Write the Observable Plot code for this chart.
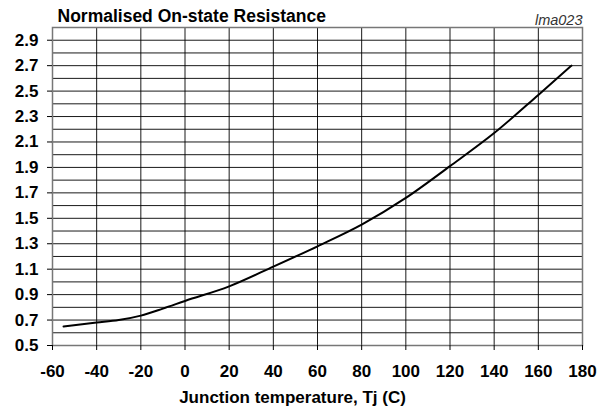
<!DOCTYPE html>
<html>
<head>
<meta charset="utf-8">
<script src="https://cdn.jsdelivr.net/npm/d3@7"></script>
<script src="https://cdn.jsdelivr.net/npm/@observablehq/plot@0.6"></script>
<style>
  html, body { margin: 0; padding: 0; background: #fff; }
  #chart svg { display: block; }
</style>
</head>
<body>
<div id="chart"></div>
<script>
// Junction temperature (°C)
const temps = [-55, -40, -30, -20, -10, 0, 20, 40, 60, 80, 100, 120, 140, 160, 175];
// Normalised on-state resistance
const rdson = [0.65, 0.68, 0.70, 0.735, 0.79, 0.85, 0.965, 1.12, 1.28, 1.45, 1.66, 1.91, 2.17, 2.47, 2.70];

const xTicks = [-60, -40, -20, 0, 20, 40, 60, 80, 100, 120, 140, 160, 180];
const yTicks = [0.5, 0.7, 0.9, 1.1, 1.3, 1.5, 1.7, 1.9, 2.1, 2.3, 2.5, 2.7, 2.9];
const yGrid = d3.range(5, 31).map(d => d / 10);

const title = "Normalised On-state Resistance";
const code = "lma023";
const xTitle = "Junction temperature, Tj (C)";

const data = temps.map((t, i) => ({t, r: rdson[i]}));

const chart = Plot.plot({
  width: 604,
  height: 409,
  marginLeft: 52,
  marginRight: 22,
  marginTop: 27,
  marginBottom: 64,
  style: {fontFamily: "'Liberation Sans', Arial, sans-serif", background: "#fff", color: "#000"},
  x: {domain: [-60, 180]},
  y: {domain: [0.5, 3.0]},
  marks: [
    Plot.gridX(xTicks, {stroke: "#000", strokeOpacity: 0.9, strokeWidth: 1}),
    Plot.gridY(yGrid, {stroke: "#000", strokeOpacity: 0.9, strokeWidth: 1}),
    Plot.frame({stroke: "#777", strokeWidth: 1.5}),
    Plot.axisX(xTicks, {tickSize: 5, tickPadding: 14, fontSize: 17, fontWeight: "bold", label: null, stroke: "#000", tickFormat: d => String(d)}),
    Plot.axisY(yTicks, {tickSize: 5, tickPadding: 9, fontSize: 17, fontWeight: "bold", label: null, tickFormat: d3.format(".1f"), stroke: "#000"}),
    Plot.line(data, {x: "t", y: "r", stroke: "#000", strokeWidth: 2, curve: "monotone-x"}),
    Plot.text([title], {frameAnchor: "top-left", text: d => d, dx: 5, dy: -6, textAnchor: "start", lineAnchor: "bottom", fontSize: 17.5, fontWeight: "bold"}),
    Plot.text([code], {frameAnchor: "top-right", text: d => d, dy: -3, textAnchor: "end", lineAnchor: "bottom", fontSize: 14.5, fontStyle: "italic", fill: "#333"}),
    Plot.text([xTitle], {frameAnchor: "bottom-left", text: d => d, dx: 240, dy: 57, textAnchor: "middle", lineAnchor: "bottom", fontSize: 17, fontWeight: "bold"})
  ]
});
document.getElementById("chart").appendChild(chart);
</script>
</body>
</html>
